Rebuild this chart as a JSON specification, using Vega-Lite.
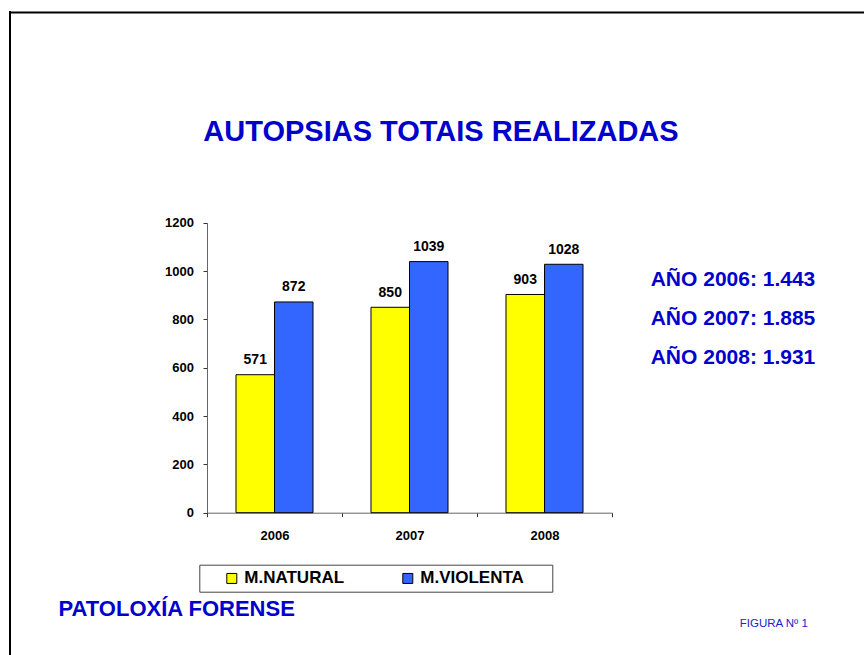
{
  "$schema": "https://vega.github.io/schema/vega-lite/v6.json",
  "width": 854,
  "height": 643,
  "autosize": {"type": "none"},
  "padding": {"left": 10, "top": 12, "right": 0, "bottom": 0},
  "background": "white",
  "config": {
    "font": "Liberation Sans",
    "view": {"stroke": null}
  },
  "title": {
    "text": "AUTOPSIAS TOTAIS REALIZADAS",
    "fontSize": 29,
    "fontWeight": "bold",
    "color": "#0000CC",
    "anchor": "middle",
    "frame": "group",
    "offset": 0,
    "dx": 4,
    "dy": 136
  },
  "datasets": {
    "bars": [
      {"year": "2006", "tipo": "M.NATURAL", "value": 571},
      {"year": "2006", "tipo": "M.VIOLENTA", "value": 872},
      {"year": "2007", "tipo": "M.NATURAL", "value": 850},
      {"year": "2007", "tipo": "M.VIOLENTA", "value": 1039},
      {"year": "2008", "tipo": "M.NATURAL", "value": 903},
      {"year": "2008", "tipo": "M.VIOLENTA", "value": 1028}
    ],
    "totals": [
      {"label": "AÑO 2006: 1.443"},
      {"label": "AÑO 2007: 1.885"},
      {"label": "AÑO 2008: 1.931"}
    ]
  },
  "layer": [
    {
      "data": {"name": "bars"},
      "encoding": {
        "x": {
          "field": "year",
          "type": "nominal",
          "scale": {"range": [197, 602], "paddingInner": 0, "paddingOuter": 0},
          "axis": {
            "orient": "bottom",
            "offset": -142.3,
            "labelAngle": 0,
            "tickBand": "extent",
            "tickSize": 4,
            "tickColor": "#333333",
            "domainColor": "#666666",
            "labelPadding": 12.5,
            "labelFontSize": 13,
            "labelFontWeight": "bold",
            "labelColor": "black",
            "grid": false,
            "title": "PATOLOXÍA FORENSE",
            "titleX": 48,
            "titleY": 102.8,
            "titleAlign": "left",
            "titleBaseline": "alphabetic",
            "titleFontSize": 22,
            "titleFontWeight": "bold",
            "titleColor": "#0000CC"
          }
        },
        "xOffset": {
          "field": "tipo",
          "type": "nominal",
          "scale": {"paddingInner": 0, "paddingOuter": 0.753}
        },
        "y": {
          "field": "value",
          "type": "quantitative",
          "scale": {"domain": [0, 1200], "range": [500.7, 210.7], "nice": false},
          "axis": {
            "orient": "left",
            "offset": -197,
            "values": [0, 200, 400, 600, 800, 1000, 1200],
            "format": "d",
            "grid": false,
            "tickSize": 4,
            "tickColor": "#333333",
            "domainColor": "#666666",
            "labelPadding": 9.5,
            "labelFontSize": 13,
            "labelFontWeight": "bold",
            "labelColor": "black",
            "title": "FIGURA Nº 1",
            "titleAngle": 0,
            "titleX": 532.3,
            "titleY": 614,
            "titleAlign": "left",
            "titleBaseline": "alphabetic",
            "titleFontSize": 11.5,
            "titleFontWeight": "normal",
            "titleColor": "#2222CC"
          }
        }
      },
      "layer": [
        {
          "mark": {"type": "bar", "stroke": "black", "strokeWidth": 1},
          "encoding": {
            "color": {
              "field": "tipo",
              "type": "nominal",
              "scale": {"domain": ["M.NATURAL", "M.VIOLENTA"], "range": ["#FFFF00", "#3366FF"]},
              "legend": {
                "orient": "none",
                "legendX": 189.3,
                "legendY": 552.7,
                "direction": "horizontal",
                "title": "\u2003",
                "titleOrient": "right",
                "titleFontSize": 17,
                "titlePadding": 23,
                "padding": 5,
                "strokeColor": "#444444",
                "fillColor": "white",
                "symbolType": "square",
                "symbolSize": 100,
                "symbolStrokeColor": "black",
                "symbolStrokeWidth": 1,
                "symbolOpacity": 1,
                "symbolOffset": 19,
                "labelOffset": 4,
                "columnPadding": 36,
                "labelFontSize": 17,
                "labelFontWeight": "bold",
                "labelColor": "black"
              }
            }
          }
        },
        {
          "mark": {"type": "text", "baseline": "alphabetic", "dy": -10.5, "fontSize": 14, "fontWeight": "bold", "color": "black"},
          "encoding": {"text": {"field": "value", "type": "quantitative"}}
        }
      ]
    },
    {
      "data": {"name": "totals"},
      "encoding": {
        "x": {
          "datum": "t",
          "type": "nominal",
          "scale": {"type": "point", "range": [0, 854], "padding": 0, "align": 0},
          "axis": {
            "orient": "top",
            "labels": false,
            "ticks": false,
            "title": null,
            "grid": false,
            "domainColor": "black",
            "domainWidth": 2,
            "domainCap": "square"
          }
        }
      },
      "layer": [
        {
          "mark": {"type": "rule", "color": "black", "strokeWidth": 2, "strokeCap": "square"},
          "encoding": {}
        },
        {
          "mark": {"type": "text", "align": "left", "baseline": "middle", "fontSize": 21, "fontWeight": "bold", "color": "#0000CC", "dx": 640.7},
          "encoding": {
            "y": {
              "field": "label",
              "type": "nominal",
              "scale": {"type": "point", "range": [268, 346], "padding": 0},
              "axis": null
            },
            "text": {"field": "label"}
          }
        }
      ]
    }
  ],
  "resolve": {
    "scale": {"x": "independent", "y": "independent"},
    "axis": {"x": "independent", "y": "independent"}
  }
}
